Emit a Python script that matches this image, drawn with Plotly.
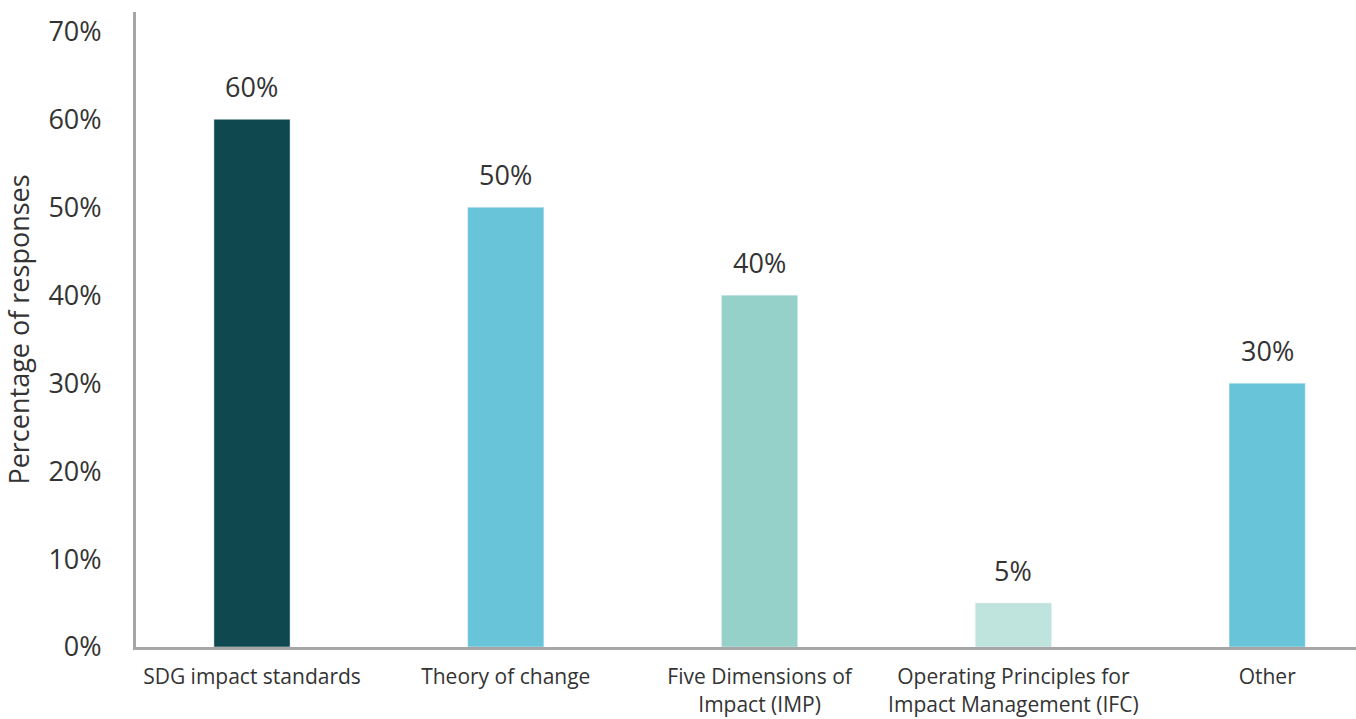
import plotly.graph_objects as go

categories = ["SDG impact standards", "Theory of change", "Five Dimensions of<br>Impact (IMP)",
              "Operating Principles for<br>Impact Management (IFC)", "Other"]
values = [60, 50, 40, 5, 30]
bar_labels = ["60%", "50%", "40%", "5%", "30%"]
colors = ["#10484f", "#68c4d9", "#95d1c9", "#bfe3dd", "#68c4d9"]
tick_vals = [0, 10, 20, 30, 40, 50, 60, 70]
tick_text = ["0%", "10%", "20%", "30%", "40%", "50%", "60%", "70%"]

FONT = "Open Sans"
TXT = "#333333"

fig = go.Figure(go.Bar(x=categories, y=values, marker_color=colors, width=0.30,
                       hoverinfo="skip"))

for c, v, t in zip(categories, values, bar_labels):
    fig.add_annotation(x=c, y=v, text=t, showarrow=False, yanchor="bottom", yshift=12,
                       font=dict(family=FONT, size=27, color=TXT))

fig.update_layout(
    width=1356, height=719,
    margin=dict(l=136, r=0, t=12, b=72),
    plot_bgcolor="white", paper_bgcolor="white",
    showlegend=False,
    font=dict(family=FONT, color=TXT),
    xaxis=dict(range=[-0.457, 4.35], showgrid=False, showline=True, linecolor="#a6a6a6",
               linewidth=3, ticks="", tickfont=dict(family=FONT, size=21, color=TXT),
               ticklabelstandoff=9, automargin=False, fixedrange=True),
    yaxis=dict(range=[0, 72.2], tickvals=tick_vals, ticktext=tick_text, showgrid=False,
               zeroline=False, showline=True, linecolor="#a6a6a6", linewidth=3, ticks="",
               tickfont=dict(family=FONT, size=27, color=TXT), ticklabelstandoff=26,
               title=dict(text="Percentage of responses", font=dict(family=FONT, size=27, color=TXT),
                          standoff=12), automargin=False, fixedrange=True),
)

fig.write_html("out.html")
